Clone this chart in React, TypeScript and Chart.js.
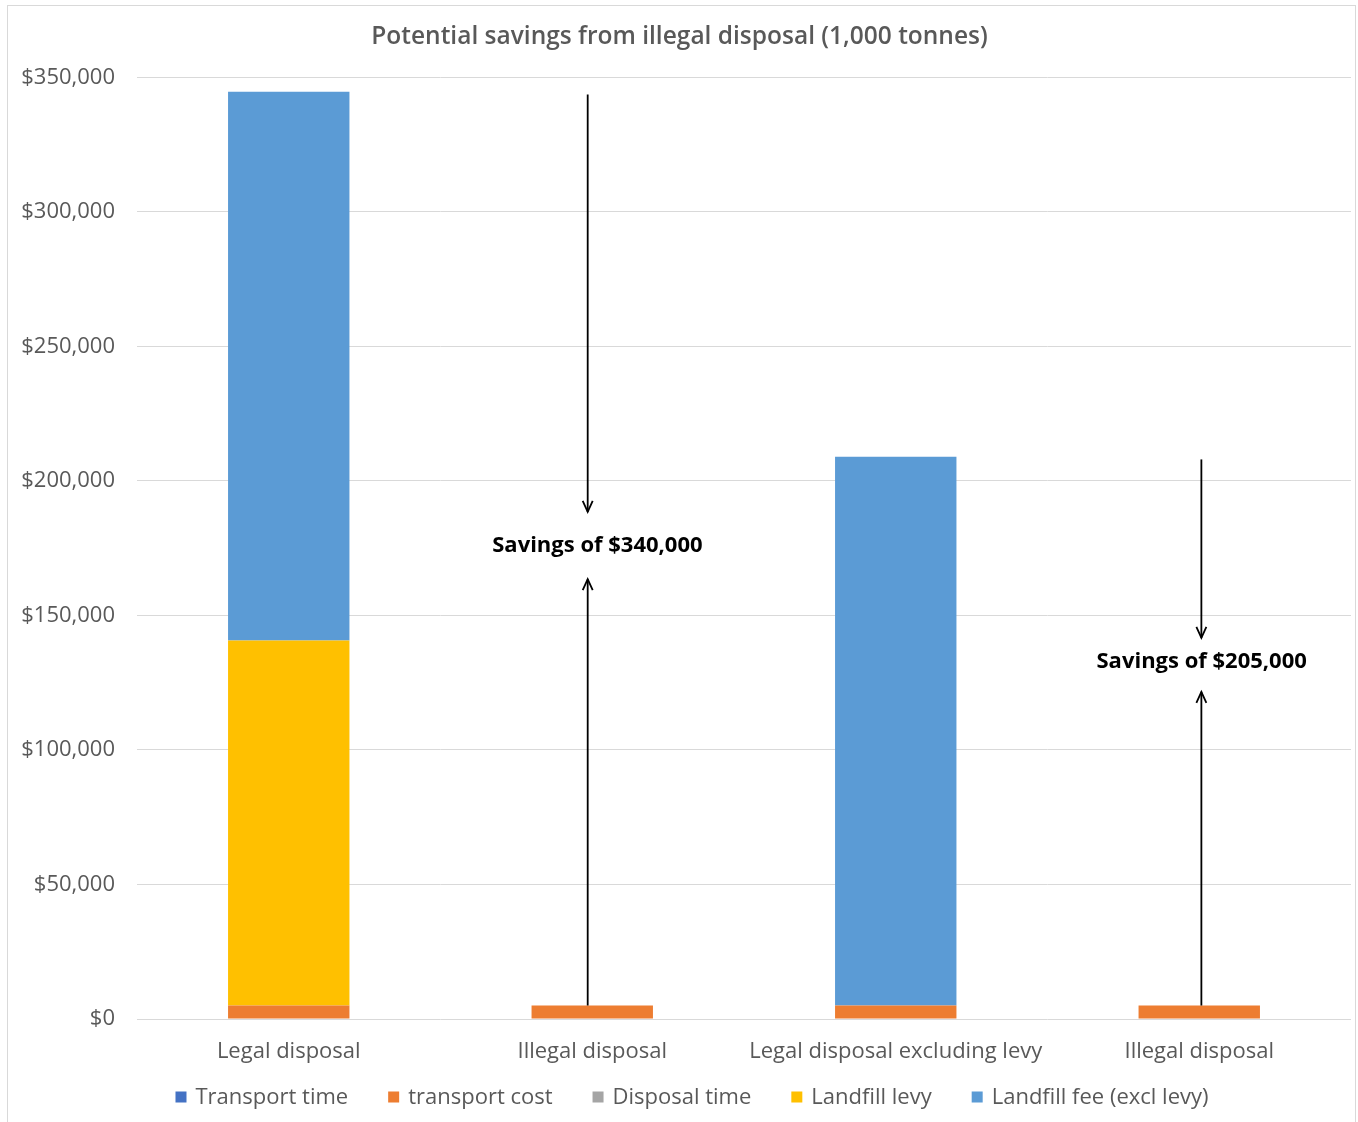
import React, { useEffect, useRef } from "react";
import { Chart, registerables } from "chart.js";

Chart.register(...registerables);

const categories = ["Legal disposal", "Illegal disposal", "Legal disposal excluding levy", "Illegal disposal"];
const transportTime = [0, 0, 0, 0];
const transportCost = [5000, 5000, 5000, 5000];
const disposalTime = [0, 0, 0, 0];
const landfillLevy = [135700, 0, 0, 0];
const landfillFee = [204000, 0, 204000, 0];

const yTicks = [0, 50000, 100000, 150000, 200000, 250000, 300000, 350000];

// savings annotations (data units: category index on x, dollars on y)
const savingsText = ["Savings of $340,000", "Savings of $205,000"];
const savingsArrowX = [0.985, 3.007];
const savingsTextX = [1.017, 3.008];
const savingsTop = [343600, 208000];
const savingsDownEnd = [188500, 141700];
const savingsTextValue = [176000, 132800];
const savingsUpEnd = [163500, 121600];
const savingsBottom = [5000, 5000];

const FONT = "'Open Sans', sans-serif";
const GREY = "#595959";

export default function App() {
  const ref = useRef<HTMLCanvasElement>(null);
  useEffect(() => {
    const canvas = ref.current!;
    const framePlugin = {
      id: "frame",
      beforeDraw(chart: any) {
        const ctx = chart.ctx;
        ctx.save();
        ctx.fillStyle = "#ffffff";
        ctx.fillRect(0, 0, chart.width, chart.height);
        ctx.strokeStyle = "#d9d9d9";
        ctx.lineWidth = 1;
        ctx.strokeRect(7.5, 5.5, 1348, 1130);
        ctx.restore();
      },
    };
    const legendPlugin = {
      id: "bottomLegend",
      afterDraw(chart: any) {
        const ctx = chart.ctx;
        const ds = chart.data.datasets;
        ctx.save();
        ctx.font = `22px ${FONT}`;
        const box = 11, textGap = 9, itemGap = 40;
        const widths = ds.map((d: any) => ctx.measureText(d.label).width);
        const total = widths.reduce((a: number, w: number) => a + box + textGap + w, 0) + itemGap * (ds.length - 1);
        let x = 692 - total / 2;
        const y = 1097;
        ctx.textBaseline = "middle";
        ctx.textAlign = "left";
        ds.forEach((d: any, i: number) => {
          ctx.fillStyle = d.backgroundColor;
          ctx.fillRect(x, y - box / 2, box, box);
          ctx.fillStyle = GREY;
          ctx.fillText(d.label, x + box + textGap, y + 1);
          x += box + textGap + widths[i] + itemGap;
        });
        ctx.restore();
      },
    };
    const arrowPlugin = {
      id: "savingsArrows",
      afterDatasetsDraw(chart: any) {
        const ctx = chart.ctx;
        const xs = chart.scales.x;
        const ys = chart.scales.y;
        ctx.save();
        ctx.strokeStyle = "#000000";
        ctx.lineWidth = 1.8;
        const head = (x: number, y: number, dir: number) => {
          ctx.beginPath();
          ctx.moveTo(x - 5, y - dir * 11);
          ctx.lineTo(x, y);
          ctx.lineTo(x + 5, y - dir * 11);
          ctx.stroke();
        };
        for (let i = 0; i < savingsText.length; i++) {
          const x = xs.getPixelForValue(savingsArrowX[i]);
          const tx = xs.getPixelForValue(savingsTextX[i]);
          const yTop = ys.getPixelForValue(savingsTop[i]);
          const yDown = ys.getPixelForValue(savingsDownEnd[i]);
          const yText = ys.getPixelForValue(savingsTextValue[i]);
          const yUp = ys.getPixelForValue(savingsUpEnd[i]);
          const yBot = ys.getPixelForValue(savingsBottom[i]);
          ctx.beginPath();
          ctx.moveTo(x, yTop);
          ctx.lineTo(x, yDown);
          ctx.stroke();
          head(x, yDown, 1);
          ctx.beginPath();
          ctx.moveTo(x, yBot);
          ctx.lineTo(x, yUp);
          ctx.stroke();
          head(x, yUp, -1);
          ctx.fillStyle = "#000000";
          ctx.font = `bold 22px ${FONT}`;
          ctx.textAlign = "center";
          ctx.textBaseline = "middle";
          ctx.fillText(savingsText[i], tx, yText);
        }
        ctx.restore();
      },
    };
    const chart = new Chart(canvas, {
      type: "bar",
      data: {
        labels: categories,
        datasets: [
          { label: "Transport time", data: transportTime, backgroundColor: "#4472C4" },
          { label: "transport cost", data: transportCost, backgroundColor: "#ED7D31" },
          { label: "Disposal time", data: disposalTime, backgroundColor: "#A5A5A5" },
          { label: "Landfill levy", data: landfillLevy, backgroundColor: "#FFC000" },
          { label: "Landfill fee (excl levy)", data: landfillFee, backgroundColor: "#5B9BD5" },
        ],
      },
      options: {
        animation: false,
        responsive: false,
        maintainAspectRatio: false,
        datasets: { bar: { categoryPercentage: 1, barPercentage: 0.4 } },
        layout: { padding: { left: 8, right: 7, top: 8, bottom: 4 } },
        plugins: {
          title: {
            display: true,
            text: "Potential savings from illegal disposal (1,000 tonnes)",
            color: GREY,
            font: { family: FONT, size: 24.5, weight: "600" },
            padding: { top: 14, bottom: 26 },
          },
          legend: { display: false },
          tooltip: { enabled: false },
        },
        scales: {
          x: {
            stacked: true,
            grid: { display: false },
            border: { display: false },
            ticks: { color: GREY, font: { family: FONT, size: 22 }, padding: 12 },
            afterFit: (s: any) => { s.height = 99; },
          },
          y: {
            stacked: true,
            min: 0,
            max: 350000,
            afterBuildTicks: (s: any) => { s.ticks = yTicks.map((v) => ({ value: v })); },
            grid: { color: "#d9d9d9", drawTicks: false },
            border: { display: false },
            ticks: {
              color: GREY,
              font: { family: FONT, size: 22 },
              padding: 22,
              callback: (v: any) => "$" + Number(v).toLocaleString("en-US"),
            },
            afterFit: (s: any) => { s.width = 129; },
          },
        },
      },
      plugins: [framePlugin, arrowPlugin, legendPlugin],
    });
    return () => chart.destroy();
  }, []);
  return (
    <div style={{ position: "fixed", left: 0, top: 0, width: 1358, height: 1122 }}>
      <canvas ref={ref} width={1358} height={1122} style={{ width: 1358, height: 1122, display: "block" }} />
    </div>
  );
}
